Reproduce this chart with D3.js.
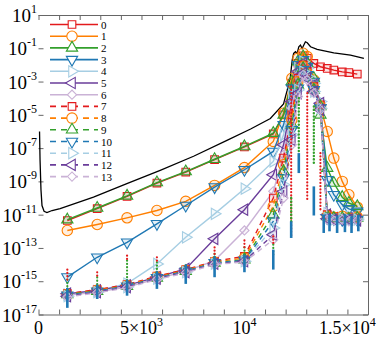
<!DOCTYPE html>
<html>
<head>
<meta charset="utf-8">
<script src="https://cdn.jsdelivr.net/npm/d3@7"></script>
<style>
  body { margin: 0; background: #fff; }
  svg { display: block; }
  svg text { font-family: "Liberation Serif", "Times New Roman", serif; }
</style>
</head>
<body>
<div id="chart"></div>
<script>
// sample times shared by every mode
const times = [1400, 2850, 4300, 5750, 7150, 8550, 10000, 11400, 11900, 12300, 12600, 12850, 13050, 13370, 13690, 14020, 14340, 14750, 15070, 15480];

// log10 of each mode's amplitude at those times
const mode0 = [-11.35, -10.64, -9.90, -9.10, -8.44, -7.69, -6.93, -6.15, -5.0, -3.1, -1.9, -1.45, -1.6, -1.91, -2.11, -2.21, -2.31, -2.42, -2.46, -2.55];
const mode1 = [-11.95, -11.59, -11.19, -10.75, -10.2, -9.24, -8.17, -6.6, -4.9, -2.8, -1.6, -1.3, -1.5, -2.9, -4.5, -6.0, -7.6, -9.0, -9.8, -10.55];
const mode2 = [-11.3, -10.6, -9.87, -9.07, -8.41, -7.67, -6.9, -6.1, -5.0, -3.0, -1.8, -1.5, -1.9, -2.8, -5.0, -8.2, -9.1, -9.95, -10.3, -10.5];
const mode3 = [-14.75, -13.56, -12.66, -11.55, -10.45, -9.34, -8.30, -7.2, -5.6, -3.4, -2.0, -1.7, -2.1, -3.0, -4.6, -8.9, -9.8, -10.4, -10.65, -10.8];
const mode4 = [-15.8, -15.6, -15.14, -13.96, -12.36, -10.95, -9.44, -7.8, -6.2, -3.8, -2.2, -1.8, -2.2, -3.1, -4.2, -10.9, -11.1, -11.2, -11.1, -11.2];
const mode5 = [-15.75, -15.55, -15.25, -14.75, -14.26, -12.45, -10.7, -8.6, -6.8, -4.2, -2.4, -1.9, -2.3, -3.2, -4.3, -11.0, -11.2, -11.3, -11.2, -11.3];
const mode6 = [-15.85, -15.65, -15.35, -14.85, -14.4, -13.76, -11.95, -9.6, -7.4, -4.6, -2.6, -2.0, -2.4, -3.3, -4.4, -11.1, -11.25, -11.2, -11.3, -11.25];
const mode7 = [-15.75, -15.5, -15.2, -14.7, -14.3, -13.8, -13.5, -10.0, -7.6, -5.0, -2.8, -2.0, -2.4, -3.3, -4.4, -11.0, -11.1, -11.2, -11.2, -11.2];
const mode8 = [-15.8, -15.55, -15.25, -14.75, -14.35, -13.85, -13.6, -10.5, -8.0, -5.3, -3.0, -2.1, -2.5, -3.4, -4.5, -11.1, -11.15, -11.1, -11.2, -11.15];
const mode9 = [-15.8, -15.6, -15.3, -14.8, -14.4, -13.9, -13.7, -11.0, -8.4, -5.6, -3.2, -2.2, -2.6, -3.5, -4.5, -11.1, -11.2, -11.2, -11.25, -11.2];
const mode10 = [-15.85, -15.6, -15.3, -14.8, -14.4, -13.9, -13.75, -11.4, -8.8, -5.9, -3.4, -2.3, -2.6, -3.5, -4.6, -11.2, -11.25, -11.3, -11.2, -11.3];
const mode11 = [-15.9, -15.65, -15.35, -14.85, -14.45, -13.95, -13.8, -11.8, -9.2, -6.2, -3.5, -2.4, -2.7, -3.6, -4.6, -11.2, -11.3, -11.25, -11.3, -11.3];
const mode12 = [-15.9, -15.65, -15.35, -14.85, -14.45, -13.95, -13.8, -12.2, -9.6, -6.5, -3.7, -2.5, -2.8, -3.6, -4.7, -11.25, -11.3, -11.35, -11.3, -11.35];
const mode13 = [-15.95, -15.7, -15.4, -14.9, -14.5, -14.0, -13.85, -12.5, -10.0, -6.8, -3.9, -2.6, -2.9, -3.7, -4.7, -11.3, -11.35, -11.3, -11.4, -11.35];

const modes = [mode0, mode1, mode2, mode3, mode4, mode5, mode6, mode7, mode8, mode9, mode10, mode11, mode12, mode13];
const modeNames = ['0', '1', '2', '3', '4', '5', '6', '7', '8', '9', '10', '11', '12', '13'];

// total (black curve)
const totalTimes = [50, 75, 120, 170, 270, 410, 660, 1050, 2670, 4290, 5910, 7530, 9150, 10300, 11260, 11900, 12070, 12230, 12320, 12390, 12480, 12560, 12640, 12720, 12800, 12960, 13050, 13210, 13530, 14340, 15150, 15800];
const totalLog = [-6.0, -7.7, -9.5, -10.45, -10.8, -10.87, -10.75, -10.64, -9.95, -9.14, -8.34, -7.49, -6.53, -5.85, -5.22, -4.35, -3.55, -2.72, -1.71, -1.31, -1.21, -1.31, -0.91, -0.81, -1.01, -0.61, -0.67, -0.91, -1.07, -1.27, -1.41, -1.61];

// dotted spikes at each output time
const spikeTimes = [1400, 2850, 4300, 5750, 7150, 8550, 10000, 11400];
const spikeFloor = [-15.8, -15.6, -15.3, -14.8, -14.4, -13.9, -13.8, -13.5];
const redSpikeTop = [-14.3, -14.46, -13.46, -13.56, -14.16, -12.96, -12.55, -12.3];
const greenSpikeTop = [-14.9, -14.77, -13.76, -13.86, -14.46, -13.36, -12.96, -12.8];
const blueSpikeBottom = [-16.6, -16.07, -15.87, -15.46, -15.16, -14.76, -14.46, -14.3];

const peakRedT = [12270, 13050, 13690];
const peakRedTop = [-3.3, -3.7, -7.3];
const peakRedBottom = [-12.4, -10.1, -10.7];
const peakGreenT = [12270, 12640, 13370];
const peakGreenTop = [-10.0, -4.0, -4.5];
const peakGreenBottom = [-11.4, -7.3, -8.0];
const peakBlueT = [12270, 12640, 13370];
const peakBlueTop = [-11.4, -7.3, -9.3];
const peakBlueBottom = [-12.4, -8.5, -11.05];

const tailBlueT = [13850, 14130, 14500, 14880, 15200, 15530];
const tailBlueTop = [-11.0, -11.0, -11.1, -11.0, -11.1, -11.0];
const tailBlueBottom = [-12.1, -12.0, -12.1, -12.05, -12.1, -12.0];

const xTicks = d3.range(0, 16001, 1000);
const xLabelTicks = [0, 5000, 10000, 15000];
const xLabelBase = ['0', '5×10', '10', '1.5×10'];
const xLabelExp = ['', '3', '4', '4'];
const yExps = [1, -1, -3, -5, -7, -9, -11, -13, -15, -17];

const colors = ['#e31a1c', '#ff7f00', '#33a02c', '#1f78b4', '#a6cee3', '#6a3d9a', '#cab2d6'];

const width = 380, height = 338;
const x = d3.scaleLinear().domain([0, 16000]).range([38.5, 368]);
const y = d3.scaleLog().domain([1e-17, 1e1]).range([314.5, 15]);

const svg = d3.select('#chart').append('svg')
  .attr('width', width)
  .attr('height', height);

const axisColor = '#666';

// frame: bottom, top, right (no left spine)
const gBottom = svg.append('g')
  .attr('transform', `translate(0,${y.range()[0]})`)
  .call(d3.axisBottom(x).tickValues(xTicks).tickSizeInner(-5).tickSizeOuter(0).tickFormat(() => ''));
const gTop = svg.append('g')
  .attr('transform', `translate(0,${y.range()[1]})`)
  .call(d3.axisTop(x).tickValues(xTicks).tickSizeInner(-5).tickSizeOuter(0).tickFormat(() => ''));
const gRight = svg.append('g')
  .attr('transform', `translate(${x.range()[1]},0)`)
  .call(d3.axisRight(y).tickValues(yExps.map(e => 10 ** e)).tickSizeInner(-5).tickSizeOuter(0).tickFormat(() => ''));
const gLeft = svg.append('g')
  .attr('transform', `translate(${x.range()[0]},0)`)
  .call(d3.axisLeft(y).tickValues(yExps.map(e => 10 ** e)).tickSizeInner(-5).tickSizeOuter(0).tickFormat(() => ''));
gLeft.select('.domain').remove();
[gBottom, gTop, gRight, gLeft].forEach(g => {
  g.selectAll('path, line').attr('stroke', axisColor).attr('stroke-width', 1);
});

// tick labels with superscripts
xLabelTicks.forEach((t, i) => {
  const txt = svg.append('text')
    .attr('x', x(t))
    .attr('y', y.range()[0] + 19)
    .attr('text-anchor', 'middle')
    .attr('font-size', 18)
    .attr('fill', '#000');
  txt.append('tspan').text(xLabelBase[i]);
  if (xLabelExp[i]) txt.append('tspan').attr('dy', -8).attr('font-size', 12).text(xLabelExp[i]);
});
yExps.forEach(e => {
  const txt = svg.append('text')
    .attr('x', 37)
    .attr('y', y(10 ** e) + 7)
    .attr('text-anchor', 'end')
    .attr('font-size', 19)
    .attr('fill', '#000');
  txt.append('tspan').text('10');
  txt.append('tspan').attr('dy', -9).attr('font-size', 12).text(String(e));
});

const plot = svg.append('g');

// total curve
const totalLine = d3.line()
  .x((d, i) => x(totalTimes[i]))
  .y(d => y(10 ** d));
plot.append('path')
  .datum(totalLog)
  .attr('d', totalLine)
  .attr('fill', 'none')
  .attr('stroke', '#000')
  .attr('stroke-width', 1.3);

function markerPath(k) {
  const m = k % 7;
  const types = [d3.symbolSquare, d3.symbolCircle, d3.symbolTriangle, d3.symbolTriangle,
    d3.symbolTriangle, d3.symbolTriangle, d3.symbolSquare];
  const sizes = [58, 85, 55, 55, 55, 55, 42];
  return d3.symbol().type(types[m]).size(sizes[m])();
}
const markerRotate = [0, 0, 0, 180, 90, -90, 45];

const modeLine = d3.line()
  .x((d, i) => x(times[i]))
  .y(d => y(10 ** d));

modes.forEach((vals, k) => {
  const c = colors[k % 7];
  const g = plot.append('g');
  g.append('path')
    .datum(vals)
    .attr('d', modeLine)
    .attr('fill', 'none')
    .attr('stroke', c)
    .attr('stroke-width', 1.4)
    .attr('stroke-dasharray', k >= 7 ? '5,4' : null);
  g.selectAll('path.mk')
    .data(vals)
    .join('path')
    .attr('class', 'mk')
    .attr('d', markerPath(k))
    .attr('transform', (d, i) => `translate(${x(times[i])},${y(10 ** d)}) rotate(${markerRotate[k % 7]})`)
    .attr('fill', c)
    .attr('fill-opacity', 0.12)
    .attr('stroke', c)
    .attr('stroke-width', 1.1);
});

// vertical spikes
function spikes(ts, tops, bottoms, color, dotted, w) {
  plot.append('g').selectAll('line')
    .data(ts)
    .join('line')
    .attr('x1', d => x(d))
    .attr('x2', d => x(d))
    .attr('y1', (d, i) => y(10 ** tops[i]))
    .attr('y2', (d, i) => y(10 ** bottoms[i]))
    .attr('stroke', color)
    .attr('stroke-width', w)
    .attr('stroke-linecap', dotted ? 'round' : null)
    .attr('stroke-dasharray', dotted ? '0.1,3.2' : null);
}
spikes(spikeTimes, greenSpikeTop, spikeFloor, colors[2], true, 2.2);
spikes(spikeTimes, redSpikeTop, greenSpikeTop, colors[0], true, 2.2);
spikes(spikeTimes, spikeFloor.map(v => v + 0.4), blueSpikeBottom, colors[3], false, 2.6);
spikes(peakRedT, peakRedTop, peakRedBottom, colors[0], true, 2.2);
spikes(peakGreenT, peakGreenTop, peakGreenBottom, colors[2], true, 2.4);
spikes(peakBlueT, peakBlueTop, peakBlueBottom, colors[3], false, 2.6);
spikes(tailBlueT, tailBlueTop, tailBlueBottom, colors[3], false, 2.6);

// legend
const legend = svg.append('g');
modeNames.forEach((name, k) => {
  const c = colors[k % 7];
  const ly = 24.5 + k * 11.7;
  legend.append('line')
    .attr('x1', 50).attr('x2', 98)
    .attr('y1', ly).attr('y2', ly)
    .attr('stroke', c)
    .attr('stroke-width', 1.6)
    .attr('stroke-dasharray', k >= 7 ? '6,5' : null);
  legend.append('path')
    .attr('d', markerPath(k))
    .attr('transform', `translate(72,${ly}) rotate(${markerRotate[k % 7]})`)
    .attr('fill', '#fff')
    .attr('stroke', c)
    .attr('stroke-width', 1.1);
  legend.append('text')
    .attr('x', 101)
    .attr('y', ly + 4)
    .attr('font-size', 11)
    .attr('fill', '#000')
    .text(name);
});
</script>
</body>
</html>
